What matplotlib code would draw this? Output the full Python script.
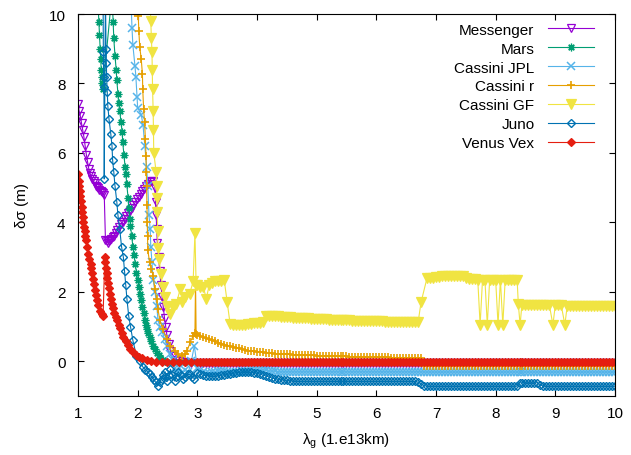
import numpy as np
import matplotlib.pyplot as plt

plt.rcParams['font.family'] = ['Liberation Sans', 'DejaVu Sans']
plt.rcParams['mathtext.fontset'] = 'custom'
plt.rcParams['mathtext.rm'] = 'Liberation Sans'
plt.rcParams['mathtext.it'] = 'Liberation Sans:italic'

# common sampling of the long flat tails (x = 3.00 ... 10.00, step 0.05)
TAIL_X = list(np.round(np.arange(3.0, 10.001, 0.05), 2))

# ---- Messenger ----
mess_x = [1.00, 1.02, 1.04, 1.06, 1.08, 1.10, 1.12, 1.14, 1.16, 1.18, 1.20, 1.22, 1.24, 1.26, 1.28, 1.30,
          1.32, 1.34, 1.36, 1.38, 1.40, 1.42, 1.44,
          1.46, 1.48, 1.50, 1.52, 1.54, 1.56, 1.58, 1.60, 1.63, 1.66, 1.69, 1.72, 1.75, 1.78, 1.81, 1.84,
          1.87, 1.90, 1.93, 1.96, 1.99, 2.02, 2.05, 2.08, 2.11, 2.14, 2.17, 2.20, 2.23, 2.26,
          2.29, 2.30, 2.31, 2.32, 2.33, 2.35, 2.37, 2.39, 2.41, 2.43, 2.45, 2.47, 2.49, 2.52, 2.55, 2.60,
          2.65, 2.70, 2.80, 2.90]
mess_y = [7.40, 7.20, 7.05, 6.85, 6.65, 6.45, 6.20, 5.95, 5.75, 5.55, 5.42, 5.33, 5.25, 5.18, 5.12, 5.06,
          5.02, 4.98, 4.94, 4.90, 4.87, 4.84, 4.80,
          3.50, 3.45, 3.42, 3.45, 3.48, 3.52, 3.57, 3.62, 3.70, 3.78, 3.86, 3.94, 4.02, 4.10, 4.18, 4.26,
          4.34, 4.42, 4.50, 4.58, 4.66, 4.74, 4.82, 4.90, 4.97, 5.04, 5.10, 5.15, 5.18, 5.20,
          5.00, 4.60, 4.20, 3.80, 3.40, 3.00, 2.60, 2.20, 1.85, 1.55, 1.25, 1.00, 0.75, 0.50, 0.30, 0.15,
          0.05, 0.00, -0.03, -0.05]
mess_tail = [-0.05, -0.05, -0.05, -0.05, -0.05, -0.05, -0.05, -0.05, -0.05, -0.05, -0.05, -0.05, -0.05, -0.05, -0.05, -0.05, -0.05, -0.05, -0.05, -0.05,
             -0.05, -0.05, -0.05, -0.05, -0.05, -0.05, -0.05, -0.05, -0.05, -0.05, -0.05, -0.05, -0.05, -0.05, -0.05, -0.05, -0.05, -0.05, -0.05, -0.05,
             -0.05, -0.05, -0.05, -0.05, -0.05, -0.05, -0.05, -0.05, -0.05, -0.05, -0.05, -0.05, -0.05, -0.05, -0.05, -0.05, -0.05, -0.05, -0.05, -0.05,
             -0.05, -0.05, -0.05, -0.05, -0.05, -0.05, -0.05, -0.05, -0.05, -0.05, -0.05, -0.05, -0.05, -0.05, -0.05, -0.05, -0.05, -0.05, -0.05, -0.05,
             -0.05, -0.05, -0.05, -0.05, -0.05, -0.05, -0.05, -0.05, -0.05, -0.05, -0.05, -0.05, -0.05, -0.05, -0.05, -0.05, -0.05, -0.05, -0.05, -0.05,
             -0.05, -0.05, -0.05, -0.05, -0.05, -0.05, -0.05, -0.05, -0.05, -0.05, -0.05, -0.05, -0.05, -0.05, -0.05, -0.05, -0.05, -0.05, -0.05, -0.05,
             -0.05, -0.05, -0.05, -0.05, -0.05, -0.05, -0.05, -0.05, -0.05, -0.05, -0.05, -0.05, -0.05, -0.05, -0.05, -0.05, -0.05, -0.05, -0.05, -0.05,
             -0.05]

# ---- Mars ----
mars_x = [1.33, 1.35, 1.36, 1.37, 1.38, 1.39, 1.40, 1.41, 1.42,
          1.57, 1.59, 1.60, 1.62, 1.64, 1.65, 1.67, 1.68, 1.70, 1.72,
          1.74, 1.75, 1.77, 1.79, 1.80, 1.82, 1.84, 1.85, 1.87, 1.88,
          1.90, 1.92, 1.94, 1.96, 1.98, 2.00, 2.02, 2.04, 2.06, 2.08,
          2.10, 2.12, 2.14, 2.16, 2.18, 2.20, 2.23, 2.26, 2.29, 2.32,
          2.35, 2.38, 2.42, 2.46, 2.50, 2.60, 2.70, 2.80, 2.90]
mars_y = [10.5, 9.77, 9.4, 9.0, 8.7, 8.4, 8.2, 8.0, 7.85,
          10.6, 9.77, 9.3, 8.8, 8.4, 8.1, 7.7, 7.45, 7.2, 6.9,
          6.6, 6.3, 5.95, 5.6, 5.4, 5.1, 4.7, 4.4, 4.1, 3.9,
          3.6, 3.3, 3.05, 2.8, 2.55, 2.35, 2.15, 1.95, 1.75, 1.55,
          1.38, 1.2, 1.05, 0.92, 0.8, 0.7, 0.58, 0.45, 0.35, 0.25,
          0.17, 0.1, 0.05, 0.0, -0.02, -0.03, -0.03, -0.03, -0.03]
mars_tail = [-0.03, -0.03, -0.03, -0.03, -0.03, -0.03, -0.03, -0.03, -0.03, -0.03, -0.03, -0.03, -0.03, -0.03, -0.03, -0.03, -0.03, -0.03, -0.03, -0.03,
             -0.03, -0.03, -0.03, -0.03, -0.03, -0.03, -0.03, -0.03, -0.03, -0.03, -0.03, -0.03, -0.03, -0.03, -0.03, -0.03, -0.03, -0.03, -0.03, -0.03,
             -0.03, -0.03, -0.03, -0.03, -0.03, -0.03, -0.03, -0.03, -0.03, -0.03, -0.03, -0.03, -0.03, -0.03, -0.03, -0.03, -0.03, -0.03, -0.03, -0.03,
             -0.03, -0.03, -0.03, -0.03, -0.03, -0.03, -0.03, -0.03, -0.03, -0.03, -0.03, -0.03, -0.03, -0.03, -0.03, -0.03, -0.03, -0.03, -0.03, -0.03,
             -0.03, -0.03, -0.03, -0.03, -0.03, -0.03, -0.03, -0.03, -0.03, -0.03, -0.03, -0.03, -0.03, -0.03, -0.03, -0.03, -0.03, -0.03, -0.03, -0.03,
             -0.03, -0.03, -0.03, -0.03, -0.03, -0.03, -0.03, -0.03, -0.03, -0.03, -0.03, -0.03, -0.03, -0.03, -0.03, -0.03, -0.03, -0.03, -0.03, -0.03,
             -0.03, -0.03, -0.03, -0.03, -0.03, -0.03, -0.03, -0.03, -0.03, -0.03, -0.03, -0.03, -0.03, -0.03, -0.03, -0.03, -0.03, -0.03, -0.03, -0.03,
             -0.03]

# ---- Cassini JPL ----
jpl_x = [1.89, 1.905, 1.92, 1.955, 1.97, 1.99, 2.00, 2.06, 2.09, 2.12,
         2.15, 2.17, 2.19, 2.21, 2.22, 2.24, 2.26, 2.29, 2.32, 2.34,
         2.37, 2.41, 2.45, 2.49, 2.55, 2.59, 2.62, 2.66, 2.70, 2.75,
         2.80, 2.85, 2.90, 2.95]
jpl_y = [10.3, 9.6, 9.1, 8.5, 8.2, 7.6, 7.3, 7.1, 6.8, 6.2,
         5.6, 5.05, 4.2, 3.8, 3.3, 2.85, 2.35, 2.0, 1.6, 1.2,
         1.0, 0.85, 0.65, 0.45, 0.2, 0.05, -0.2, -0.35, -0.2, -0.35,
         -0.25, -0.3, 0.0, 0.45]
jpl_tail = [-0.20, -0.25, -0.30, -0.33, -0.35, -0.32, -0.30, -0.29, -0.28, -0.29, -0.30, -0.31, -0.32, -0.31, -0.30, -0.29, -0.28, -0.27, -0.26, -0.25,
            -0.25, -0.25, -0.25, -0.26, -0.27, -0.28, -0.29, -0.30, -0.30, -0.30, -0.30, -0.30, -0.30, -0.30, -0.30, -0.30, -0.30, -0.30, -0.30, -0.30,
            -0.30, -0.30, -0.30, -0.30, -0.30, -0.30, -0.30, -0.30, -0.30, -0.30, -0.30, -0.30, -0.30, -0.30, -0.30, -0.30, -0.30, -0.30, -0.30, -0.30,
            -0.30, -0.30, -0.30, -0.30, -0.30, -0.30, -0.30, -0.30, -0.30, -0.30, -0.30, -0.30, -0.30, -0.30, -0.30, -0.30, -0.31, -0.31, -0.31, -0.31,
            -0.31, -0.31, -0.31, -0.31, -0.31, -0.31, -0.31, -0.31, -0.31, -0.31, -0.31, -0.31, -0.31, -0.31, -0.31, -0.31, -0.31, -0.31, -0.31, -0.31,
            -0.31, -0.31, -0.31, -0.31, -0.31, -0.31, -0.31, -0.31, -0.31, -0.31, -0.31, -0.31, -0.31, -0.31, -0.31, -0.31, -0.31, -0.31, -0.31, -0.31,
            -0.31, -0.31, -0.31, -0.31, -0.31, -0.31, -0.31, -0.31, -0.31, -0.31, -0.31, -0.31, -0.31, -0.31, -0.31, -0.31, -0.31, -0.31, -0.31, -0.31,
            -0.31]

# ---- Cassini r ----
cr_x = [2.00, 2.01, 2.02, 2.035, 2.06, 2.08, 2.085, 2.10, 2.115, 2.13,
        2.14, 2.145, 2.15, 2.155, 2.16, 2.165, 2.17, 2.20, 2.23, 2.26,
        2.29, 2.32, 2.34, 2.37, 2.42, 2.49, 2.54, 2.63, 2.68, 2.74,
        2.80, 2.83, 2.88, 2.93, 2.96, 2.97, 2.98]
cr_y = [10.3, 9.95, 9.5, 9.05, 8.7, 8.27, 7.85, 7.26, 6.9, 6.4,
        5.9, 5.45, 5.05, 4.5, 4.0, 3.6, 3.2, 2.85, 2.65, 2.45,
        2.07, 1.8, 1.5, 1.2, 0.92, 0.63, 0.45, 0.3, 0.2, 0.15,
        0.22, 0.3, 0.55, 0.73, 0.8, 2.3, 0.78]
cr_tail = [0.75, 0.72, 0.69, 0.66, 0.63, 0.60, 0.57, 0.54, 0.51, 0.48, 0.45, 0.43, 0.41, 0.39, 0.37, 0.35, 0.33, 0.31, 0.30, 0.29,
           0.28, 0.27, 0.26, 0.25, 0.24, 0.23, 0.22, 0.22, 0.21, 0.21, 0.20, 0.20, 0.19, 0.19, 0.18, 0.18, 0.18, 0.17, 0.17, 0.17,
           0.16, 0.16, 0.16, 0.15, 0.15, 0.15, 0.15, 0.14, 0.14, 0.14, 0.14, 0.13, 0.13, 0.13, 0.13, 0.12, 0.12, 0.12, 0.12, 0.12,
           0.11, 0.11, 0.11, 0.11, 0.11, 0.10, 0.10, 0.10, 0.10, 0.10, 0.10, 0.10, 0.10, 0.10, 0.10, 0.10, -0.15, -0.15, -0.15, -0.15,
           -0.15, -0.15, -0.15, -0.15, -0.15, -0.15, -0.15, -0.15, -0.15, -0.15, -0.15, -0.15, -0.15, -0.15, -0.15, -0.15, -0.15, -0.15, -0.15, -0.15,
           -0.15, -0.15, -0.15, -0.15, -0.15, -0.15, -0.15, -0.15, -0.15, -0.15, -0.15, -0.15, -0.15, -0.15, -0.15, -0.15, -0.15, -0.15, -0.15, -0.15,
           -0.15, -0.15, -0.15, -0.15, -0.15, -0.15, -0.15, -0.15, -0.15, -0.15, -0.15, -0.15, -0.15, -0.15, -0.15, -0.15, -0.15, -0.15, -0.15, -0.15,
           -0.15]

# ---- Cassini GF ----
gf_x = [2.21, 2.22, 2.23, 2.24, 2.245, 2.25, 2.26, 2.265, 2.27, 2.31,
        2.32, 2.325, 2.33, 2.335, 2.34, 2.36, 2.39, 2.42, 2.46, 2.49,
        2.54, 2.60, 2.65, 2.71, 2.75, 2.80, 2.87, 2.93, 2.96, 2.98]
gf_y = [10.3, 9.8, 9.3, 8.9, 8.4, 7.85, 7.2, 6.65, 6.0, 5.45,
        5.05, 4.7, 4.3, 3.75, 3.25, 2.95, 2.5, 2.15, 1.85, 1.6,
        1.35, 1.55, 1.65, 2.07, 1.7, 1.85, 1.93, 2.3, 3.7, 2.2]
gf_tail = [(3.00, 2.2), (3.05, 2.15), (3.10, 2.15), (3.15, 1.8), (3.20, 2.2), (3.25, 2.25), (3.30, 2.3),
           (3.35, 2.3), (3.40, 2.3), (3.45, 2.35), (3.50, 1.7), (3.55, 1.07), (3.60, 1.05), (3.65, 1.05),
           (3.70, 1.05), (3.75, 1.05), (3.80, 1.05), (3.85, 1.06), (3.90, 1.08), (3.95, 1.09), (4.00, 1.1),
           (4.05, 1.11), (4.10, 1.12), (4.15, 1.3), (4.20, 1.3), (4.25, 1.3), (4.30, 1.29), (4.35, 1.29),
           (4.40, 1.28), (4.45, 1.28), (4.50, 1.27), (4.55, 1.27), (4.60, 1.26), (4.65, 1.26), (4.70, 1.25),
           (4.75, 1.25), (4.80, 1.24), (4.85, 1.24), (4.90, 1.23), (4.95, 1.23), (5.00, 1.22), (5.05, 1.22),
           (5.10, 1.21), (5.15, 1.21), (5.20, 1.2), (5.25, 1.2), (5.30, 1.2), (5.35, 1.19), (5.40, 1.19),
           (5.45, 1.18), (5.50, 1.18), (5.55, 1.18), (5.60, 1.17), (5.65, 1.17), (5.70, 1.17), (5.75, 1.16),
           (5.80, 1.16), (5.85, 1.16), (5.90, 1.16), (5.95, 1.15), (6.00, 1.15), (6.05, 1.15), (6.10, 1.15),
           (6.15, 1.14), (6.20, 1.14), (6.25, 1.14), (6.30, 1.14), (6.35, 1.13), (6.40, 1.13), (6.45, 1.13),
           (6.50, 1.13), (6.55, 1.12), (6.60, 1.12), (6.65, 1.12), (6.70, 1.12), (6.75, 1.7), (6.85, 2.4),
           (6.90, 2.4), (6.95, 2.4), (7.00, 2.42), (7.05, 2.42), (7.10, 2.45), (7.15, 2.45), (7.20, 2.45),
           (7.25, 2.45), (7.30, 2.45), (7.35, 2.45), (7.40, 2.45), (7.45, 2.45), (7.50, 2.4), (7.55, 2.38),
           (7.60, 2.38), (7.65, 2.36), (7.70, 2.35), (7.74, 1.05), (7.78, 2.35), (7.82, 2.35), (7.86, 1.05),
           (7.90, 2.35), (7.95, 2.35), (8.00, 2.35), (8.04, 1.05), (8.08, 2.35), (8.12, 1.05), (8.16, 2.35),
           (8.20, 2.35), (8.25, 2.35), (8.30, 2.35), (8.36, 2.35), (8.38, 1.65), (8.41, 1.05), (8.44, 1.63),
           (8.50, 1.62), (8.55, 1.62), (8.60, 1.62), (8.65, 1.62), (8.70, 1.62), (8.75, 1.62), (8.80, 1.62),
           (8.85, 1.62), (8.90, 1.62), (8.96, 1.05), (9.00, 1.62), (9.05, 1.61), (9.10, 1.61), (9.16, 1.05),
           (9.20, 1.6), (9.25, 1.6), (9.30, 1.6), (9.35, 1.6), (9.40, 1.6), (9.45, 1.6), (9.50, 1.6),
           (9.55, 1.6), (9.60, 1.6), (9.65, 1.6), (9.70, 1.6), (9.75, 1.6), (9.80, 1.6), (9.85, 1.6),
           (9.90, 1.6), (9.95, 1.6), (10.00, 1.6)]

# ---- Juno ----
juno_x = [1.42, 1.425, 1.43, 1.435, 1.44,
          1.46, 1.47, 1.475, 1.48, 1.49, 1.50, 1.52, 1.55, 1.57, 1.58,
          1.60, 1.62, 1.65, 1.67, 1.70, 1.73, 1.76, 1.78, 1.80, 1.82,
          1.85, 1.88, 1.92, 1.98, 2.04, 2.09, 2.13, 2.17, 2.20, 2.24,
          2.27, 2.30, 2.34, 2.37, 2.40, 2.43, 2.46, 2.48, 2.50, 2.53,
          2.55, 2.58, 2.62, 2.65, 2.68, 2.72, 2.76, 2.80, 2.84, 2.87,
          2.91, 2.95]
juno_y = [10.6, 8.9, 8.2, 7.9, 5.25,
          10.6, 9.0, 8.6, 8.2, 7.75, 7.35, 6.97, 6.54, 6.2, 5.8,
          5.45, 5.05, 4.6, 4.2, 3.8, 3.3, 3.0, 2.6, 2.2, 1.8,
          1.3, 1.0, 0.6, 0.15, 0.0, -0.17, -0.24, -0.3, -0.38, -0.46,
          -0.53, -0.6, -0.7, -0.6, -0.5, -0.4, -0.3, -0.45, -0.57, -0.4,
          -0.23, -0.4, -0.57, -0.45, -0.3, -0.4, -0.5, -0.45, -0.38, -0.38,
          -0.45, -0.5]
juno_tail = [-0.35, -0.38, -0.40, -0.41, -0.42, -0.43, -0.43, -0.42, -0.40, -0.39, -0.38, -0.36, -0.35, -0.33, -0.32, -0.31, -0.30, -0.31, -0.32, -0.33,
             -0.35, -0.37, -0.40, -0.42, -0.45, -0.48, -0.50, -0.52, -0.53, -0.54, -0.55, -0.56, -0.57, -0.57, -0.58, -0.58, -0.58, -0.58, -0.58, -0.58,
             -0.58, -0.58, -0.58, -0.58, -0.58, -0.58, -0.58, -0.58, -0.58, -0.58, -0.58, -0.58, -0.58, -0.58, -0.58, -0.58, -0.58, -0.58, -0.58, -0.58,
             -0.58, -0.58, -0.58, -0.58, -0.58, -0.58, -0.58, -0.58, -0.58, -0.58, -0.58, -0.58, -0.58, -0.58, -0.60, -0.65, -0.70, -0.72, -0.72, -0.72,
             -0.72, -0.72, -0.72, -0.72, -0.72, -0.72, -0.72, -0.72, -0.72, -0.72, -0.72, -0.72, -0.72, -0.72, -0.72, -0.72, -0.72, -0.72, -0.72, -0.72,
             -0.72, -0.72, -0.72, -0.72, -0.72, -0.72, -0.72, -0.72, -0.62, -0.62, -0.62, -0.62, -0.62, -0.62, -0.62, -0.68, -0.72, -0.72, -0.72, -0.72,
             -0.72, -0.72, -0.72, -0.72, -0.72, -0.72, -0.72, -0.72, -0.72, -0.72, -0.72, -0.72, -0.72, -0.72, -0.72, -0.72, -0.72, -0.72, -0.72, -0.72,
             -0.72]

# ---- Venus Vex ----
vv_x = [1.00, 1.01, 1.02, 1.03, 1.04, 1.05, 1.06, 1.07, 1.08, 1.09, 1.10, 1.11, 1.12, 1.13,
        1.15, 1.17, 1.19, 1.21, 1.22, 1.23, 1.25, 1.26, 1.28, 1.30, 1.32, 1.34, 1.37, 1.40, 1.42,
        1.45, 1.46, 1.47, 1.48, 1.49, 1.50, 1.52, 1.53, 1.55, 1.57,
        1.59, 1.61, 1.63, 1.65, 1.68, 1.70, 1.73, 1.76, 1.80, 1.84,
        1.88, 1.92, 1.97, 2.02, 2.08, 2.15, 2.22, 2.30, 2.40, 2.50,
        2.60, 2.70, 2.80, 2.90]
vv_y = [5.40, 5.20, 5.05, 4.90, 4.77, 4.62, 4.45, 4.30, 4.15, 4.00, 3.87, 3.75, 3.62, 3.50,
        3.30, 3.10, 2.95, 2.80, 2.70, 2.55, 2.38, 2.22, 2.05, 1.90, 1.75, 1.62, 1.45, 1.35, 1.30,
        3.00, 2.85, 2.70, 2.55, 2.40, 2.25, 2.10, 1.95, 1.80, 1.65,
        1.52, 1.40, 1.28, 1.18, 1.05, 0.95, 0.82, 0.70, 0.58, 0.46,
        0.36, 0.27, 0.19, 0.13, 0.08, 0.03, 0.00, -0.02, -0.03, -0.03,
        -0.03, -0.03, -0.03, -0.03]
vv_tail = [-0.03, -0.03, -0.03, -0.03, -0.03, -0.03, -0.03, -0.03, -0.03, -0.03, -0.03, -0.03, -0.03, -0.03, -0.03, -0.03, -0.03, -0.03, -0.03, -0.03,
           -0.03, -0.03, -0.03, -0.03, -0.03, -0.03, -0.03, -0.03, -0.03, -0.03, -0.03, -0.03, -0.03, -0.03, -0.03, -0.03, -0.03, -0.03, -0.03, -0.03,
           -0.03, -0.03, -0.03, -0.03, -0.03, -0.03, -0.03, -0.03, -0.03, -0.03, -0.03, -0.03, -0.03, -0.03, -0.03, -0.03, -0.03, -0.03, -0.03, -0.03,
           -0.03, -0.03, -0.03, -0.03, -0.03, -0.03, -0.03, -0.03, -0.03, -0.03, -0.03, -0.03, -0.03, -0.03, -0.03, -0.03, -0.03, -0.03, -0.03, -0.03,
           -0.03, -0.03, -0.03, -0.03, -0.03, -0.03, -0.03, -0.03, -0.03, -0.03, -0.03, -0.03, -0.03, -0.03, -0.03, -0.03, -0.03, -0.03, -0.03, -0.03,
           -0.03, -0.03, -0.03, -0.03, -0.03, -0.03, -0.03, -0.03, -0.03, -0.03, -0.03, -0.03, -0.03, -0.03, -0.03, -0.03, -0.03, -0.03, -0.03, -0.03,
           -0.03, -0.03, -0.03, -0.03, -0.03, -0.03, -0.03, -0.03, -0.03, -0.03, -0.03, -0.03, -0.03, -0.03, -0.03, -0.03, -0.03, -0.03, -0.03, -0.03,
           -0.03]

gf_all_x = gf_x + [p[0] for p in gf_tail]
gf_all_y = gf_y + [p[1] for p in gf_tail]

series = [
    ('Messenger', mess_x + TAIL_X, mess_y + mess_tail, '#9400d3', 'v', 6, 'none', 0.9),
    ('Mars', mars_x + TAIL_X, mars_y + mars_tail, '#009e73', (8, 2, 0), 5.5, None, 0.9),
    ('Cassini JPL', jpl_x + TAIL_X, jpl_y + jpl_tail, '#56b4e9', 'x', 5.5, None, 1.1),
    ('Cassini r', cr_x + TAIL_X, cr_y + cr_tail, '#e69f00', '+', 6, None, 1.2),
    ('Cassini GF', gf_all_x, gf_all_y, '#f0e442', 'v', 6.5, None, 0.9),
    ('Juno', juno_x + TAIL_X, juno_y + juno_tail, '#0072b2', 'D', 4.2, 'none', 1.0),
    ('Venus Vex', vv_x + TAIL_X, vv_y + vv_tail, '#e51e10', 'D', 4, None, 0.9),
]

fig = plt.figure(figsize=(6.31, 4.56), dpi=100)
ax = fig.add_axes([0.1236, 0.1294, 0.851, 0.8377])

for name, xs, ys, col, mk, ms, mfc, mew in series:
    kw = dict(color=col, lw=0.8, marker=mk, ms=ms, mew=mew, label=name)
    if mfc is not None:
        kw['mfc'] = mfc
    ax.plot(xs, ys, **kw)

ax.set_xlim(1, 10)
ax.set_ylim(-1, 10)
ax.set_xticks(range(1, 11))
ax.set_yticks([0, 2, 4, 6, 8, 10])
ax.tick_params(direction='in', top=True, right=True, length=4, width=0.8, labelsize=11)
ax.tick_params(axis='x', pad=7)
ax.tick_params(axis='y', pad=9)
for s in ax.spines.values():
    s.set_linewidth(0.8)

ax.set_xlabel(r'λ$_{\mathrm{g}}$ (1.e13km)', fontsize=11, labelpad=8)
ax.set_ylabel('δσ (m)', fontsize=11, labelpad=14)

ax.legend(loc='upper right', bbox_to_anchor=(0.961, 0.977), markerfirst=False, frameon=False,
          numpoints=1, fontsize=11, handlelength=3.0, handletextpad=0.9,
          labelspacing=0.32, borderpad=0, borderaxespad=0)

fig.savefig('out.png', dpi=100)
